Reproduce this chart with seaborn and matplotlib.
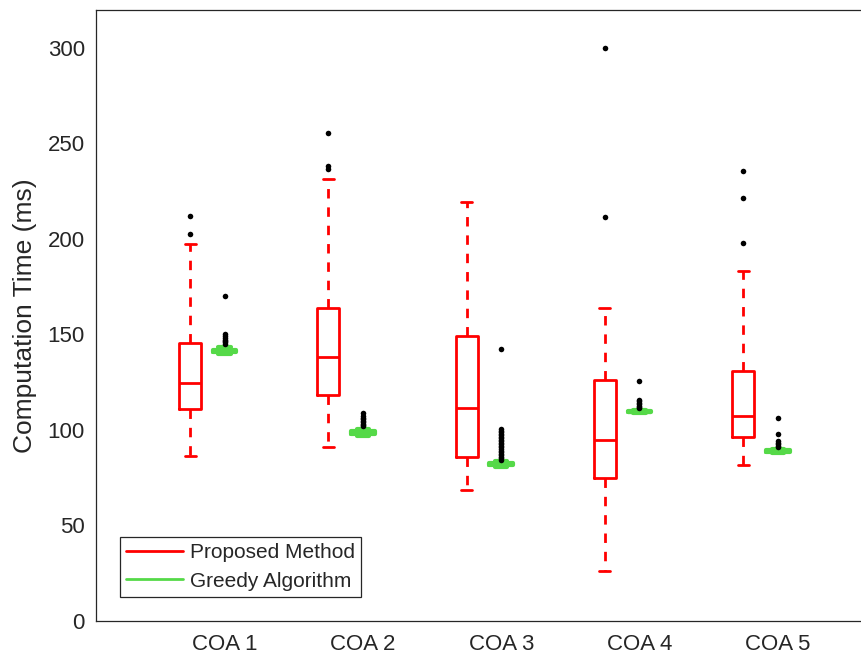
import numpy as np
import pandas as pd
import matplotlib
matplotlib.use("Agg")
import matplotlib.pyplot as plt
from matplotlib.lines import Line2D
import seaborn as sns

# Scenario names and the two compared methods
groups = ["COA 1", "COA 2", "COA 3", "COA 4", "COA 5"]
methods = ["Proposed Method", "Greedy Algorithm"]

# Proposed method: whisker ends, quartiles, median (ms)
proposed_whislo = [86.5, 91.2, 68.5, 26.1, 81.4]
proposed_q1 = [111.0, 118.3, 85.9, 74.7, 96.1]
proposed_med = [124.6, 138.4, 111.7, 94.9, 107.2]
proposed_q3 = [145.5, 164.0, 149.2, 126.0, 130.9]
proposed_whishi = [197.1, 231.5, 219.3, 163.7, 183.2]
proposed_outliers = [
    [202.7, 211.9],
    [236.4, 237.9, 255.5],
    [],
    [211.4, 300.0],
    [197.7, 221.4, 235.5],
]

# Greedy algorithm: whisker ends, quartiles, median (ms)
greedy_whislo = [139.5, 97.0, 80.6, 108.6, 88.0]
greedy_q1 = [140.7, 98.0, 81.5, 109.2, 88.6]
greedy_med = [141.3, 98.6, 82.0, 109.6, 89.0]
greedy_q3 = [141.9, 99.2, 82.5, 110.0, 89.4]
greedy_whishi = [143.2, 100.4, 83.5, 110.6, 89.9]
greedy_outliers = [
    [145.0, 145.8, 146.5, 147.2, 148.0, 149.0, 150.0, 170.3],
    [101.8, 102.5, 103.2, 104.0, 104.8, 105.6, 106.4, 107.3, 108.6],
    [84.4, 85.2, 86.0, 86.8, 87.6, 88.4, 89.2, 90.0, 90.8, 91.6, 92.4,
     93.2, 94.0, 94.8, 95.6, 96.4, 97.2, 98.0, 98.8, 99.6, 100.6, 142.2],
    [111.3, 112.0, 112.7, 113.4, 114.2, 115.0, 115.8, 125.5],
    [91.0, 91.7, 92.4, 93.1, 94.0, 97.9, 106.2],
]

RED = (1.0, 0.0, 0.0)
GREEN = "#55D948"
DARK = "#262626"

sns.set_style("white")
plt.rcParams["font.family"] = ["Liberation Sans", "DejaVu Sans"]

fig = plt.figure(figsize=(8.61, 6.66), dpi=100)
W, H = 861, 666
ax = fig.add_axes([96 / W, 45 / H, (880 - 96) / W, (621 - 9.5) / H])


def summaries(lo, q1, med, q3, hi):
    return [dict(whislo=a, q1=b, med=c, q3=d, whishi=e, fliers=[])
            for a, b, c, d, e in zip(lo, q1, med, q3, hi)]


centers = np.arange(1, len(groups) + 1, dtype=float)
pos_prop = centers
pos_greedy = centers + 0.25

ax.bxp(summaries(proposed_whislo, proposed_q1, proposed_med, proposed_q3, proposed_whishi),
       positions=pos_prop, widths=0.16, capwidths=0.08, showfliers=False,
       manage_ticks=False,
       boxprops=dict(color=RED, lw=2),
       medianprops=dict(color=RED, lw=2),
       whiskerprops=dict(color=RED, lw=2, linestyle=(0, (3.4, 3.2))),
       capprops=dict(color=RED, lw=2))

ax.bxp(summaries(greedy_whislo, greedy_q1, greedy_med, greedy_q3, greedy_whishi),
       positions=pos_greedy, widths=0.17, capwidths=0.09, showfliers=False,
       manage_ticks=False,
       boxprops=dict(color=GREEN, lw=3),
       medianprops=dict(color=GREEN, lw=3),
       whiskerprops=dict(color=GREEN, lw=3),
       capprops=dict(color=GREEN, lw=3))

# outlying runs as black dots
rows = []
for p, vals in zip(pos_prop, proposed_outliers):
    rows += [(p, v) for v in vals]
for p, vals in zip(pos_greedy, greedy_outliers):
    rows += [(p, v) for v in vals]
fl = pd.DataFrame(rows, columns=["pos", "time"])
sns.scatterplot(data=fl, x="pos", y="time", color="black", s=16,
                linewidth=0, legend=False, ax=ax, zorder=4)

ax.set_xlim(0.32, 1 + (880 - 190) / 138.3)
ax.set_ylim(0, 320)
ax.set_yticks(np.arange(0, 301, 50))
ax.set_xticks(pos_greedy)
ax.set_xticklabels(groups)
ax.set_xlabel("")
ax.set_ylabel("Computation Time (ms)", fontsize=19, color=DARK)
ax.yaxis.set_label_coords((37 - 96) / (880 - 96), 0.5)

for s in ax.spines.values():
    s.set_color(DARK)
    s.set_linewidth(0.9)
ax.tick_params(axis="both", direction="in", length=5, width=0.9,
               color=DARK, labelcolor=DARK, labelsize=16)
ax.tick_params(axis="y", pad=8)
ax.tick_params(axis="x", pad=9)

handles = [Line2D([], [], color=RED, lw=2), Line2D([], [], color=GREEN, lw=2)]
leg = ax.legend(handles, methods, loc="lower left",
                bbox_to_anchor=(120 / W, (666 - 597) / H),
                bbox_transform=fig.transFigure, borderaxespad=0,
                fancybox=False, edgecolor=DARK, framealpha=1, fontsize=15,
                handlelength=2.7, handletextpad=0.35, borderpad=0.3,
                labelspacing=0.45)
leg.get_frame().set_linewidth(0.9)

fig.savefig("out.png", dpi=100)
